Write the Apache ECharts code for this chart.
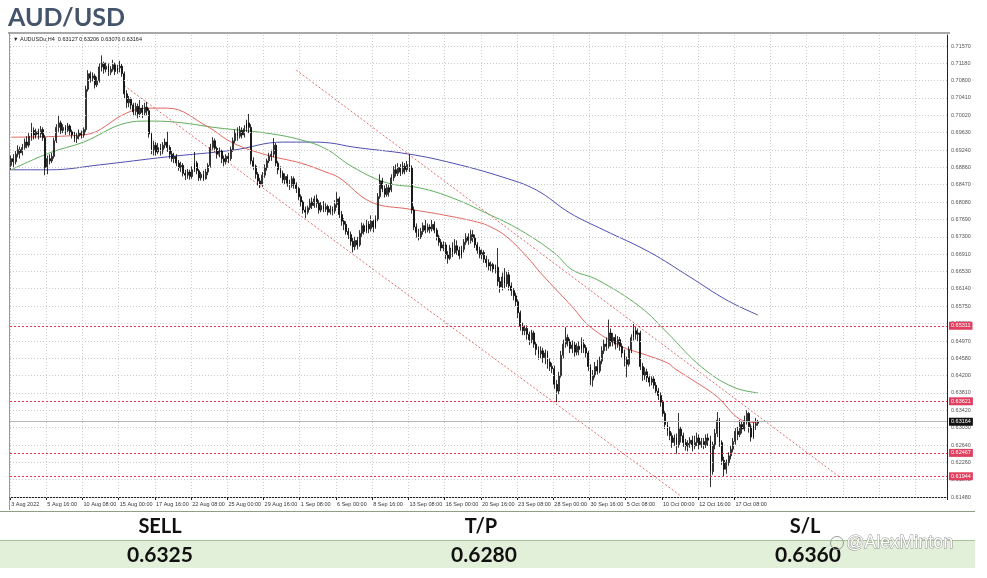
<!DOCTYPE html>
<html><head><meta charset="utf-8">
<script src="https://cdn.jsdelivr.net/npm/echarts@6.0.0/dist/echarts.min.js"></script>
<style>html,body{margin:0;padding:0;background:#fff}#c{width:987px;height:578px}</style>
</head><body><div id="c"></div>
<script>
// ---- DATA (prices in pips: value / 10000) ----
// candles: [open, close, low, high], H4 bars from 3 Aug 2022 00:00
const candles = [
// Aug 3
[6890,6905,6880,6912],[6905,6898,6886,6915],[6898,6915,6892,6922],[6915,6925,6908,6935],[6925,6918,6905,6932],[6918,6930,6912,6938],
// Aug 4
[6930,6942,6925,6950],[6942,6935,6928,6955],[6935,6955,6930,6962],[6955,6968,6945,6985],[6968,6958,6948,6975],[6958,6965,6950,6972],
// Aug 5
[6965,6960,6948,6972],[6960,6970,6952,6978],[6970,6952,6945,6975],[6952,6885,6868,6958],[6885,6905,6870,6912],[6905,6900,6892,6915],
// Aug 8
[6900,6910,6895,6918],[6910,6945,6905,6952],[6945,6975,6940,6982],[6975,6985,6965,7003],[6985,6968,6960,6990],[6968,6975,6962,6982],
// Aug 9
[6975,6968,6958,6980],[6968,6978,6962,6985],[6978,6965,6958,6982],[6965,6958,6950,6970],[6958,6950,6942,6965],[6950,6955,6940,6962],
// Aug 10
[6955,6962,6948,6970],[6962,6958,6950,6968],[6958,6970,6952,6975],[6970,7060,6965,7068],[7060,7095,7055,7103],[7095,7085,7075,7100],
// Aug 11
[7085,7090,7078,7098],[7090,7070,7062,7095],[7070,7080,7065,7088],[7080,7110,7075,7118],[7110,7118,7100,7136],[7118,7105,7095,7122],
// Aug 12
[7105,7112,7098,7120],[7112,7098,7090,7118],[7098,7105,7092,7112],[7105,7115,7100,7126],[7115,7100,7092,7120],[7100,7108,7095,7115],
// Aug 15
[7108,7112,7098,7124],[7112,7095,7088,7118],[7095,7050,7040,7100],[7050,7030,7018,7058],[7030,7038,7020,7045],[7038,7025,7015,7042],
// Aug 16
[7025,7010,7000,7030],[7010,7022,7002,7030],[7022,7005,6995,7028],[7005,7018,6998,7036],[7018,7008,6996,7025],[7008,7020,7002,7030],
// Aug 17
[7020,7012,7002,7032],[7012,6960,6952,7018],[6960,6925,6915,6965],[6925,6935,6912,6945],[6935,6920,6912,6942],[6920,6930,6915,6940],
// Aug 18
[6930,6922,6912,6938],[6922,6935,6915,6942],[6935,6942,6928,6950],[6942,6930,6920,6965],[6930,6915,6905,6935],[6915,6905,6898,6922],
// Aug 19
[6905,6910,6895,6918],[6910,6895,6888,6915],[6895,6885,6878,6902],[6885,6890,6875,6898],[6890,6872,6865,6895],[6872,6868,6857,6880],
// Aug 22
[6868,6875,6860,6882],[6875,6865,6858,6880],[6865,6880,6860,6888],[6880,6895,6875,6920],[6895,6878,6870,6900],[6878,6862,6855,6882],
// Aug 23
[6862,6870,6856,6875],[6870,6860,6855,6878],[6860,6875,6858,6882],[6875,6890,6868,6895],[6890,6930,6885,6938],[6930,6945,6925,6953],
// Aug 24
[6945,6928,6920,6950],[6928,6915,6905,6932],[6915,6922,6908,6930],[6922,6905,6895,6925],[6905,6898,6888,6912],[6898,6910,6892,6915],
// Aug 25
[6910,6905,6895,6918],[6905,6925,6900,6932],[6925,6945,6920,6952],[6945,6962,6940,6970],[6962,6955,6945,6975],[6955,6968,6950,6978],
// Aug 26
[6968,6958,6950,6975],[6958,6972,6952,6980],[6972,6985,6965,6992],[6985,6975,6962,7005],[6975,6900,6892,6982],[6900,6888,6880,6908],
// Aug 29
[6888,6870,6860,6892],[6870,6855,6845,6875],[6855,6848,6839,6862],[6848,6868,6842,6875],[6868,6885,6862,6892],[6885,6900,6878,6905],
// Aug 30
[6900,6910,6895,6918],[6910,6915,6900,6925],[6915,6935,6908,6951],[6935,6895,6888,6940],[6895,6880,6870,6900],[6880,6872,6862,6888],
// Aug 31
[6872,6858,6850,6878],[6858,6865,6848,6872],[6865,6850,6842,6870],[6850,6845,6835,6858],[6845,6860,6840,6866],[6860,6848,6838,6865],
// Sep 1
[6848,6838,6828,6852],[6838,6820,6812,6842],[6820,6808,6798,6825],[6808,6790,6782,6812],[6790,6785,6772,6798],[6785,6795,6780,6800],
// Sep 2
[6795,6808,6790,6815],[6808,6800,6792,6818],[6800,6815,6795,6822],[6815,6805,6795,6825],[6805,6790,6782,6812],[6790,6800,6785,6808],
// Sep 5
[6800,6792,6785,6810],[6792,6798,6786,6805],[6798,6785,6778,6802],[6785,6792,6780,6800],[6792,6788,6778,6798],[6788,6802,6782,6812],
// Sep 6
[6802,6815,6795,6830],[6815,6780,6772,6820],[6780,6765,6755,6788],[6765,6758,6745,6772],[6758,6742,6735,6765],[6742,6735,6725,6750],
// Sep 7
[6735,6720,6710,6742],[6720,6708,6695,6728],[6708,6722,6700,6730],[6722,6712,6702,6730],[6712,6738,6708,6745],[6738,6755,6730,6762],
// Sep 8
[6755,6742,6735,6760],[6742,6758,6738,6768],[6758,6748,6738,6765],[6748,6765,6742,6778],[6765,6752,6740,6770],[6752,6770,6748,6778],
// Sep 9
[6770,6820,6765,6828],[6820,6855,6815,6870],[6855,6838,6830,6862],[6838,6825,6818,6845],[6825,6840,6820,6848],[6840,6830,6820,6848],
// Sep 12
[6835,6862,6830,6870],[6862,6880,6855,6888],[6880,6872,6865,6892],[6872,6885,6866,6895],[6885,6875,6866,6893],[6875,6888,6870,6898],
// Sep 13
[6888,6880,6870,6895],[6880,6892,6875,6900],[6892,6885,6875,6915],[6885,6790,6782,6890],[6790,6752,6745,6798],[6752,6740,6728,6760],
// Sep 14
[6740,6730,6722,6748],[6730,6742,6725,6750],[6742,6755,6735,6762],[6755,6745,6738,6768],[6745,6752,6740,6760],[6752,6748,6738,6758],
// Sep 15
[6748,6758,6742,6768],[6758,6745,6738,6765],[6745,6730,6722,6750],[6730,6718,6710,6735],[6718,6705,6698,6725],[6705,6712,6698,6720],
// Sep 16
[6712,6690,6680,6718],[6690,6682,6670,6698],[6682,6705,6678,6712],[6705,6695,6685,6718],[6695,6710,6690,6725],[6710,6700,6690,6722],
// Sep 19
[6700,6688,6680,6708],[6688,6702,6682,6710],[6702,6718,6695,6725],[6718,6730,6712,6738],[6730,6722,6712,6738],[6722,6735,6715,6746],
// Sep 20
[6735,6728,6718,6745],[6728,6712,6705,6735],[6712,6700,6692,6718],[6700,6690,6682,6708],[6690,6695,6680,6702],[6695,6680,6672,6700],
// Sep 21
[6680,6672,6662,6688],[6672,6665,6655,6680],[6665,6668,6652,6675],[6668,6658,6650,6672],[6658,6662,6648,6668],[6662,6630,6620,6705],
// Sep 22
[6630,6618,6605,6640],[6618,6640,6610,6650],[6640,6625,6615,6660],[6625,6645,6618,6652],[6645,6620,6610,6655],[6620,6610,6598,6628],
// Sep 23
[6610,6598,6588,6615],[6598,6585,6575,6605],[6585,6560,6548,6590],[6560,6530,6520,6565],[6530,6520,6510,6538],[6520,6525,6510,6532],
// Sep 26
[6525,6512,6500,6532],[6512,6500,6488,6518],[6500,6515,6492,6522],[6515,6490,6482,6520],[6490,6478,6465,6495],[6478,6468,6455,6485],
// Sep 27
[6468,6475,6458,6485],[6475,6460,6448,6482],[6460,6470,6445,6478],[6470,6450,6435,6475],[6450,6440,6430,6458],[6440,6435,6425,6448],
// Sep 28
[6435,6400,6390,6442],[6400,6385,6360,6410],[6385,6420,6378,6428],[6420,6465,6415,6475],[6465,6490,6458,6500],[6490,6505,6482,6528],
// Sep 29
[6505,6495,6485,6512],[6495,6480,6470,6502],[6480,6488,6470,6498],[6488,6472,6462,6495],[6472,6485,6465,6492],[6485,6478,6465,6496],
// Sep 30
[6478,6490,6470,6505],[6490,6482,6470,6500],[6482,6470,6460,6488],[6470,6440,6430,6475],[6440,6410,6398,6445],[6410,6420,6395,6432],
// Oct 3
[6420,6440,6415,6450],[6440,6430,6422,6455],[6430,6452,6425,6462],[6452,6475,6445,6485],[6475,6490,6468,6500],[6490,6485,6475,6505],
// Oct 4
[6485,6515,6480,6545],[6515,6495,6485,6525],[6495,6505,6485,6515],[6505,6490,6478,6512],[6490,6500,6482,6508],[6500,6485,6475,6506],
// Oct 5
[6485,6470,6460,6492],[6470,6455,6440,6478],[6455,6445,6416,6462],[6445,6478,6440,6485],[6478,6505,6470,6512],[6505,6520,6498,6535],
// Oct 6
[6520,6512,6500,6530],[6512,6515,6495,6525],[6515,6440,6432,6520],[6440,6420,6408,6448],[6420,6428,6410,6438],[6428,6415,6405,6435],
// Oct 7
[6415,6405,6395,6422],[6405,6412,6398,6418],[6412,6398,6390,6418],[6398,6385,6378,6405],[6385,6375,6365,6392],[6375,6360,6350,6382],
// Oct 10
[6360,6335,6328,6365],[6335,6310,6300,6340],[6310,6295,6285,6318],[6295,6285,6275,6305],[6285,6270,6258,6292],[6270,6280,6262,6288],
// Oct 11
[6280,6265,6245,6290],[6265,6300,6258,6336],[6300,6285,6270,6305],[6285,6270,6260,6292],[6270,6262,6252,6278],[6262,6268,6250,6275],
// Oct 12
[6268,6275,6258,6282],[6275,6262,6250,6285],[6262,6270,6255,6285],[6270,6280,6262,6292],[6280,6265,6255,6288],[6265,6272,6258,6280],
// Oct 13
[6272,6265,6255,6280],[6265,6280,6258,6288],[6280,6275,6262,6290],[6275,6205,6170,6285],[6205,6265,6198,6272],[6265,6290,6255,6300],
// Oct 14
[6290,6320,6282,6338],[6320,6270,6260,6325],[6270,6230,6220,6275],[6230,6210,6194,6238],[6210,6225,6200,6232],[6225,6240,6218,6248],
// Oct 17
[6240,6255,6232,6262],[6255,6272,6248,6280],[6272,6295,6265,6302],[6295,6288,6275,6305],[6288,6310,6282,6320],[6310,6300,6290,6318],
// Oct 18
[6300,6318,6295,6330],[6318,6335,6310,6342],[6335,6305,6292,6338],[6305,6282,6272,6312],[6282,6308,6278,6315],[6308,6312,6298,6325],
// Oct 19
[6312.7,6316.4,6307.6,6320.6]
];

// moving averages [barIndex, pips]
const maRed = [[0,6953],[32,6958],[51,7007],[60,7018],[69,7018],[87,6976],[98,6940],[113,6913],[128,6895],[139,6875],[145,6862],[159,6808],[176,6792],[191,6779],[206,6763],[212,6752],[219,6730],[228,6685],[234,6649],[248,6573],[256,6528],[270,6484],[278,6470],[290,6448],[293,6436],[301,6410],[312,6372],[322,6322],[330,6314]];
const maGreen = [[0,6880],[17,6918],[32,6942],[51,6985],[60,6989],[72,6987],[91,6974],[113,6962],[128,6947],[139,6927],[151,6886],[166,6851],[181,6839],[195,6817],[210,6783],[225,6745],[240,6694],[248,6656],[259,6634],[278,6573],[290,6515],[305,6439],[319,6394],[330,6381]];
const maBlue = [[0,6880],[17,6880],[39,6891],[69,6909],[98,6924],[120,6942],[132,6942],[141,6940],[151,6931],[176,6915],[195,6895],[217,6864],[232,6835],[247,6783],[262,6745],[282,6696],[300,6640],[316,6589],[330,6555]];

// channel lines [barIndex, pips]
const channelUpper = [[126,7103],[366,6193]];
const channelLower = [[50,7068],[296,6150]];

// horizontal levels
const redLevels = [0.65311, 0.63621, 0.62467, 0.61944];
const lastPrice = 0.63164;

// price scale tick labels
const yTicks = [0.71570,0.71180,0.70800,0.70410,0.70020,0.69630,0.69240,0.68860,0.68470,0.68080,0.67690,0.67300,0.66910,0.66530,0.66140,0.65750,0.65360,0.64970,0.64580,0.64200,0.63810,0.63420,0.63030,0.62640,0.62260,0.61870,0.61480];
// time scale tick labels (every 16 bars)
const xTickLabels = ['3 Aug 2022','5 Aug 16:00','10 Aug 08:00','15 Aug 00:00','17 Aug 16:00','22 Aug 08:00','25 Aug 00:00','29 Aug 16:00','1 Sep 08:00','6 Sep 00:00','8 Sep 16:00','13 Sep 08:00','16 Sep 00:00','20 Sep 16:00','23 Sep 08:00','28 Sep 00:00','30 Sep 16:00','5 Oct 08:00','10 Oct 00:00','12 Oct 16:00','17 Oct 08:00'];

const tradeHeaders = ['SELL','T/P','S/L'];
const tradeValues = ['0.6325','0.6280','0.6360'];

// ---- categories: H4 bar times (weekdays only), plus empty right margin ----
const TOTAL_SLOTS = 414;
const MONTHS = ['Jan','Feb','Mar','Apr','May','Jun','Jul','Aug','Sep','Oct','Nov','Dec'];
const categories = [];
(function(){
  let t = Date.UTC(2022,7,3,0);
  while (categories.length < TOTAL_SLOTS) {
    const d = new Date(t);
    const wd = d.getUTCDay();
    if (wd !== 0 && wd !== 6) {
      const hh = String(d.getUTCHours()).padStart(2,'0');
      categories.push(d.getUTCDate()+' '+MONTHS[d.getUTCMonth()]+' '+hh+':00');
    }
    t += 4*3600*1000;
  }
})();

const P = v => v/10000;
const candleData = candles.map(c => c.map(P));
const toLine = arr => arr.map(p => [p[0], P(p[1])]);

const FONT = "'Liberation Sans', 'DejaVu Sans', sans-serif";
const TFONT = "Lato, 'Open Sans', sans-serif";

const tickIdx = i => i % 16 === 0;
const labelIdx = i => i % 16 === 0 && i/16 < xTickLabels.length;

const gridLineData = yTicks.map(v => ({
  yAxis: v,
  lineStyle: {color:'#c9c9c9', type:[1,2], width:1},
  label: {show:true, position:'end', distance:4, formatter: v.toFixed(5), color:'#555', fontSize:5.5, fontFamily: FONT}
}));
const levelData = redLevels.map(v => ({
  yAxis: v,
  lineStyle: {color:'#f0304f', type:[2,2], width:1, opacity:1},
  label: {show:true, position:'end', distance:2, formatter: v.toFixed(5), color:'#fff', backgroundColor:'#e0405f', padding:[1,2,1,2], fontSize:5.5, fontFamily: FONT}
}));
const lastData = [{
  yAxis: lastPrice,
  lineStyle: {color:'#b8b8b8', type:'solid', width:1},
  label: {show:true, position:'end', distance:2, formatter: lastPrice.toFixed(5), color:'#fff', backgroundColor:'#111', padding:[1,2,1,2], fontSize:5.5, fontFamily: FONT}
}];

const chart = echarts.init(document.getElementById('c'), null, {renderer:'canvas'});
chart.setOption({
  animation: false,
  backgroundColor: '#ffffff',
  grid: {left:10, right:40, top:35, bottom:81},
  xAxis: {
    type:'category', data: categories, boundaryGap: true,
    axisLine: {lineStyle:{color:'#222', width:1}},
    axisTick: {show:true, interval: (i)=>labelIdx(i), length:3, lineStyle:{color:'#222'}},
    axisLabel: {interval: (i)=>labelIdx(i), formatter: (v,i)=> xTickLabels[i/16] || '', align:'left', margin:4, fontSize:5.5, color:'#333', fontFamily: FONT},
    splitLine: {show:true, interval: (i)=>tickIdx(i), lineStyle:{color:'#cfcfcf', type:[1,2], width:1}}
  },
  yAxis: {
    type:'value', position:'right', min:0.6148, max:0.71816, scale:true,
    axisLine:{show:true, lineStyle:{color:'#222', width:1}},
    axisTick:{show:false}, axisLabel:{show:false}, splitLine:{show:false}
  },
  series: [
    {type:'line', data:[], z:1, markLine:{symbol:'none', silent:true, animation:false, precision:5, data: gridLineData}},
    {type:'line', name:'MA200', data: toLine(maBlue), smooth:0.4, showSymbol:false, z:2, lineStyle:{color:'#4e4fb0', width:1}},
    {type:'line', name:'MA100', data: toLine(maGreen), smooth:0.4, showSymbol:false, z:2, lineStyle:{color:'#5fae5a', width:1}},
    {type:'line', name:'MA50', data: toLine(maRed), smooth:0.4, showSymbol:false, z:2, lineStyle:{color:'#e0675f', width:1}},
    {type:'line', name:'chUp', data: toLine(channelUpper), showSymbol:false, z:2, lineStyle:{color:'#e46a6a', width:1, type:[2,2]}},
    {type:'line', name:'chLo', data: toLine(channelLower), showSymbol:false, z:2, lineStyle:{color:'#e46a6a', width:1, type:[2,2]}},
    {type:'line', data:[], z:2, markLine:{symbol:'none', silent:true, animation:false, precision:5, data: lastData}},
    {type:'candlestick', name:'AUDUSD', data: candleData, z:3, barWidth:1.4,
      itemStyle:{color:'#ffffff', color0:'#000000', borderColor:'#000000', borderColor0:'#000000', borderWidth:0.8}},
    {type:'line', data:[], z:4, markLine:{symbol:'none', silent:true, animation:false, precision:5, data: levelData}}
  ],
  graphic: [
    {type:'text', x:8, y:18, style:{text:'AUD/USD', font:"bold 25px "+TFONT, fill:'#44546a', verticalAlign:'middle'}},
    {type:'rect', shape:{x:8, y:32, width:942, height:2}, style:{fill:'#a8a8a8'}},
    {type:'line', shape:{x1:9.5, y1:32, x2:9.5, y2:510}, style:{stroke:'#9a9a9a', lineWidth:1}},
    {type:'text', x:13, y:39, style:{text:'\u25BC AUDUSDu,H4  0.63127 0.63206 0.63076 0.63164', font:"5.5px "+FONT, fill:'#222', verticalAlign:'middle'}},
    // trade table
    {type:'line', shape:{x1:0, y1:511.5, x2:975, y2:511.5}, style:{stroke:'#8f9e86', lineWidth:1}},
    {type:'rect', shape:{x:0, y:541, width:975, height:27}, style:{fill:'#e2efd9'}},
    {type:'line', shape:{x1:0, y1:540.5, x2:975, y2:540.5}, style:{stroke:'#a9c597', lineWidth:1}},
    {type:'text', x:160, y:527, style:{text:tradeHeaders[0], font:"bold 20px "+TFONT, fill:'#111', align:'center', verticalAlign:'middle'}},
    {type:'text', x:481, y:527, style:{text:tradeHeaders[1], font:"bold 20px "+TFONT, fill:'#111', align:'center', verticalAlign:'middle'}},
    {type:'text', x:805, y:527, style:{text:tradeHeaders[2], font:"bold 20px "+TFONT, fill:'#111', align:'center', verticalAlign:'middle'}},
    {type:'text', x:160, y:555, style:{text:tradeValues[0], font:"bold 21px "+TFONT, fill:'#111', align:'center', verticalAlign:'middle'}},
    {type:'text', x:484, y:555, style:{text:tradeValues[1], font:"bold 21px "+TFONT, fill:'#111', align:'center', verticalAlign:'middle'}},
    {type:'text', x:808, y:555, style:{text:tradeValues[2], font:"bold 21px "+TFONT, fill:'#111', align:'center', verticalAlign:'middle'}},
    // watermark
    {type:'circle', shape:{cx:837, cy:543, r:6.5}, style:{fill:'none', stroke:'#9a9a9a', lineWidth:1}},
    {type:'text', x:846, y:543, style:{text:'@AlexMinton', font:"18px "+FONT, fill:'#ffffff', stroke:'#8c8c8c', lineWidth:0.9, verticalAlign:'middle'}}
  ]
});
</script></body></html>
